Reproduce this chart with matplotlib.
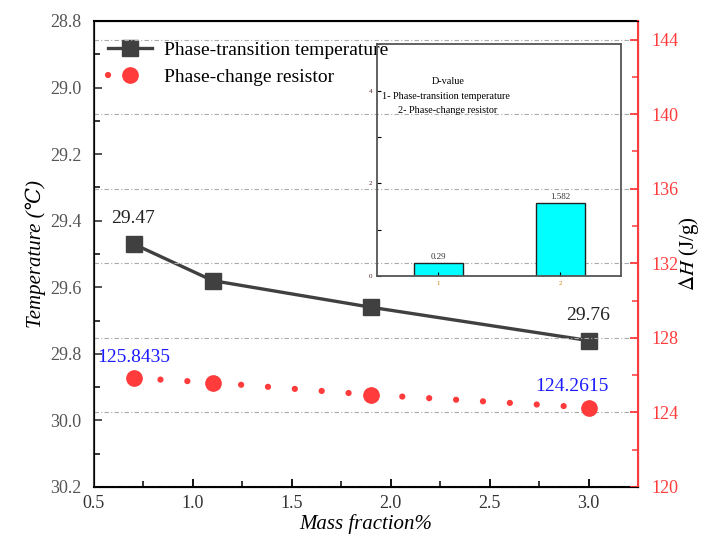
import matplotlib.pyplot as plt
from matplotlib.ticker import MultipleLocator

plt.rcParams['font.family'] = ['Liberation Serif', 'DejaVu Serif']
plt.rcParams['mathtext.fontset'] = 'stix'

# data
mass = [0.7, 1.1, 1.9, 3.0]
temp = [29.47, 29.58, 29.66, 29.76]
resist = [125.8435, 125.6, 124.95, 124.2615]
d_cats = [1, 2]
d_vals = [0.29, 1.582]

fig = plt.figure(figsize=(7.05, 5.52), dpi=100)
ax = fig.add_axes([0.1333, 0.1178, 0.7716, 0.8442])
ax2 = ax.twinx()

gray = '#404040'
red = '#ff3b3b'

# temperature (left axis, inverted)
l1, = ax.plot(mass, temp, color=gray, lw=2.4, marker='s', ms=11,
              label='Phase-transition temperature', zorder=5)
ax.set_ylim(30.2, 28.8)
ax.set_xlim(0.5, 3.25)
ax.yaxis.set_minor_locator(MultipleLocator(0.1))
ax.xaxis.set_major_locator(MultipleLocator(0.5))
ax.xaxis.set_minor_locator(MultipleLocator(0.25))
ax.set_yticks([28.8, 29.0, 29.2, 29.4, 29.6, 29.8, 30.0, 30.2])
ax.set_yticklabels(['28.8', '29.0', '29.2', '29.4', '29.6', '29.8', '30.0', '30.2'])
ax.tick_params(axis='both', which='both', direction='in', labelsize=13)
ax.tick_params(axis='both', which='major', length=6, width=1.3)
ax.tick_params(axis='both', which='minor', length=4, width=1.1)
ax.tick_params(axis='y', labelcolor='#555555', colors='#444444', pad=9)
ax.tick_params(axis='x', labelcolor='#333333', pad=6)
ax.set_ylabel('Temperature (\u2103)', fontsize=15, style='italic', labelpad=3)
ax.set_xlabel('Mass fraction%', fontsize=15, style='italic', labelpad=1)
for s in ['left', 'bottom', 'top']:
    ax.spines[s].set_linewidth(1.5)
ax.spines['left'].set_color('#444444')

ax.annotate('29.47', (mass[0], temp[0]), xytext=(0, 12), textcoords='offset points',
            ha='center', va='bottom', fontsize=14, color='#222222')
ax.annotate('29.76', (mass[-1], temp[-1]), xytext=(0, 12), textcoords='offset points',
            ha='center', va='bottom', fontsize=14, color='#222222')

# resistor (right axis)
l2, = ax2.plot(mass, resist, color=red, lw=4.5, ls=(0, (0.01, 4.3)),
               dash_capstyle='round', marker='o', ms=11,
               label='Phase-change resistor', zorder=5)
ax2.set_ylim(120, 145)
ax2.yaxis.set_major_locator(MultipleLocator(4))
ax2.yaxis.set_minor_locator(MultipleLocator(2))
ax2.tick_params(axis='y', which='both', direction='in', colors=red, labelsize=13, pad=10)
ax2.tick_params(axis='y', which='major', length=6, width=1.3)
ax2.tick_params(axis='y', which='minor', length=4, width=1.1)
ax2.spines['right'].set_color(red)
ax2.spines['right'].set_linewidth(1.5)
ax2.grid(axis='y', color='#aaaaaa', ls=(0, (4, 2, 1, 2)), lw=0.8)
ax2.set_ylabel(r'$\Delta H$ (J/g)', fontsize=15)
ax2.yaxis.set_label_coords(1.072, 0.5)

ax2.annotate('125.8435', (mass[0], resist[0]), xytext=(0, 9), textcoords='offset points',
             ha='center', va='bottom', fontsize=14, color='#1a1aff')
ax2.annotate('124.2615', (mass[-1], resist[-1]), xytext=(-12, 9), textcoords='offset points',
             ha='center', va='bottom', fontsize=14, color='#1a1aff')

ax.legend([l1, l2], [l1.get_label(), l2.get_label()], loc='upper left',
          bbox_to_anchor=(0.0, 0.985), frameon=False, fontsize=14,
          handlelength=2.3, handletextpad=0.6, borderaxespad=0.3, labelspacing=0.45)

# inset: D-value bars
axi = fig.add_axes([0.535, 0.5, 0.346, 0.42])
axi.set_facecolor('none')
axi.bar(d_cats, d_vals, width=0.4, color='#00ffff', edgecolor='#222222', lw=1.0)
axi.set_xlim(0.5, 2.5)
axi.set_ylim(0, 5)
axi.set_xticks(d_cats)
axi.set_yticks([0, 2, 4])
axi.yaxis.set_minor_locator(MultipleLocator(1))
axi.tick_params(which='both', direction='in', labelsize=5, length=3, width=0.8)
for t in axi.get_xticklabels():
    t.set_color('#cc7a00')
for t in axi.get_yticklabels():
    t.set_color('#552222')
for s in axi.spines.values():
    s.set_color('#555555')
    s.set_linewidth(1.3)
for x, v in zip(d_cats, d_vals):
    axi.text(x, v + 0.03, f'{v:g}', ha='center', va='bottom', fontsize=6.5, color='#333333')
axi.text(0.29, 0.83, 'D-value', transform=axi.transAxes, ha='center', fontsize=7.3)
axi.text(0.283, 0.765, '1- Phase-transition temperature', transform=axi.transAxes,
         ha='center', fontsize=7.3)
axi.text(0.287, 0.705, '2- Phase-change resistor', transform=axi.transAxes,
         ha='center', fontsize=7.3)

fig.savefig('out.png', dpi=100)
